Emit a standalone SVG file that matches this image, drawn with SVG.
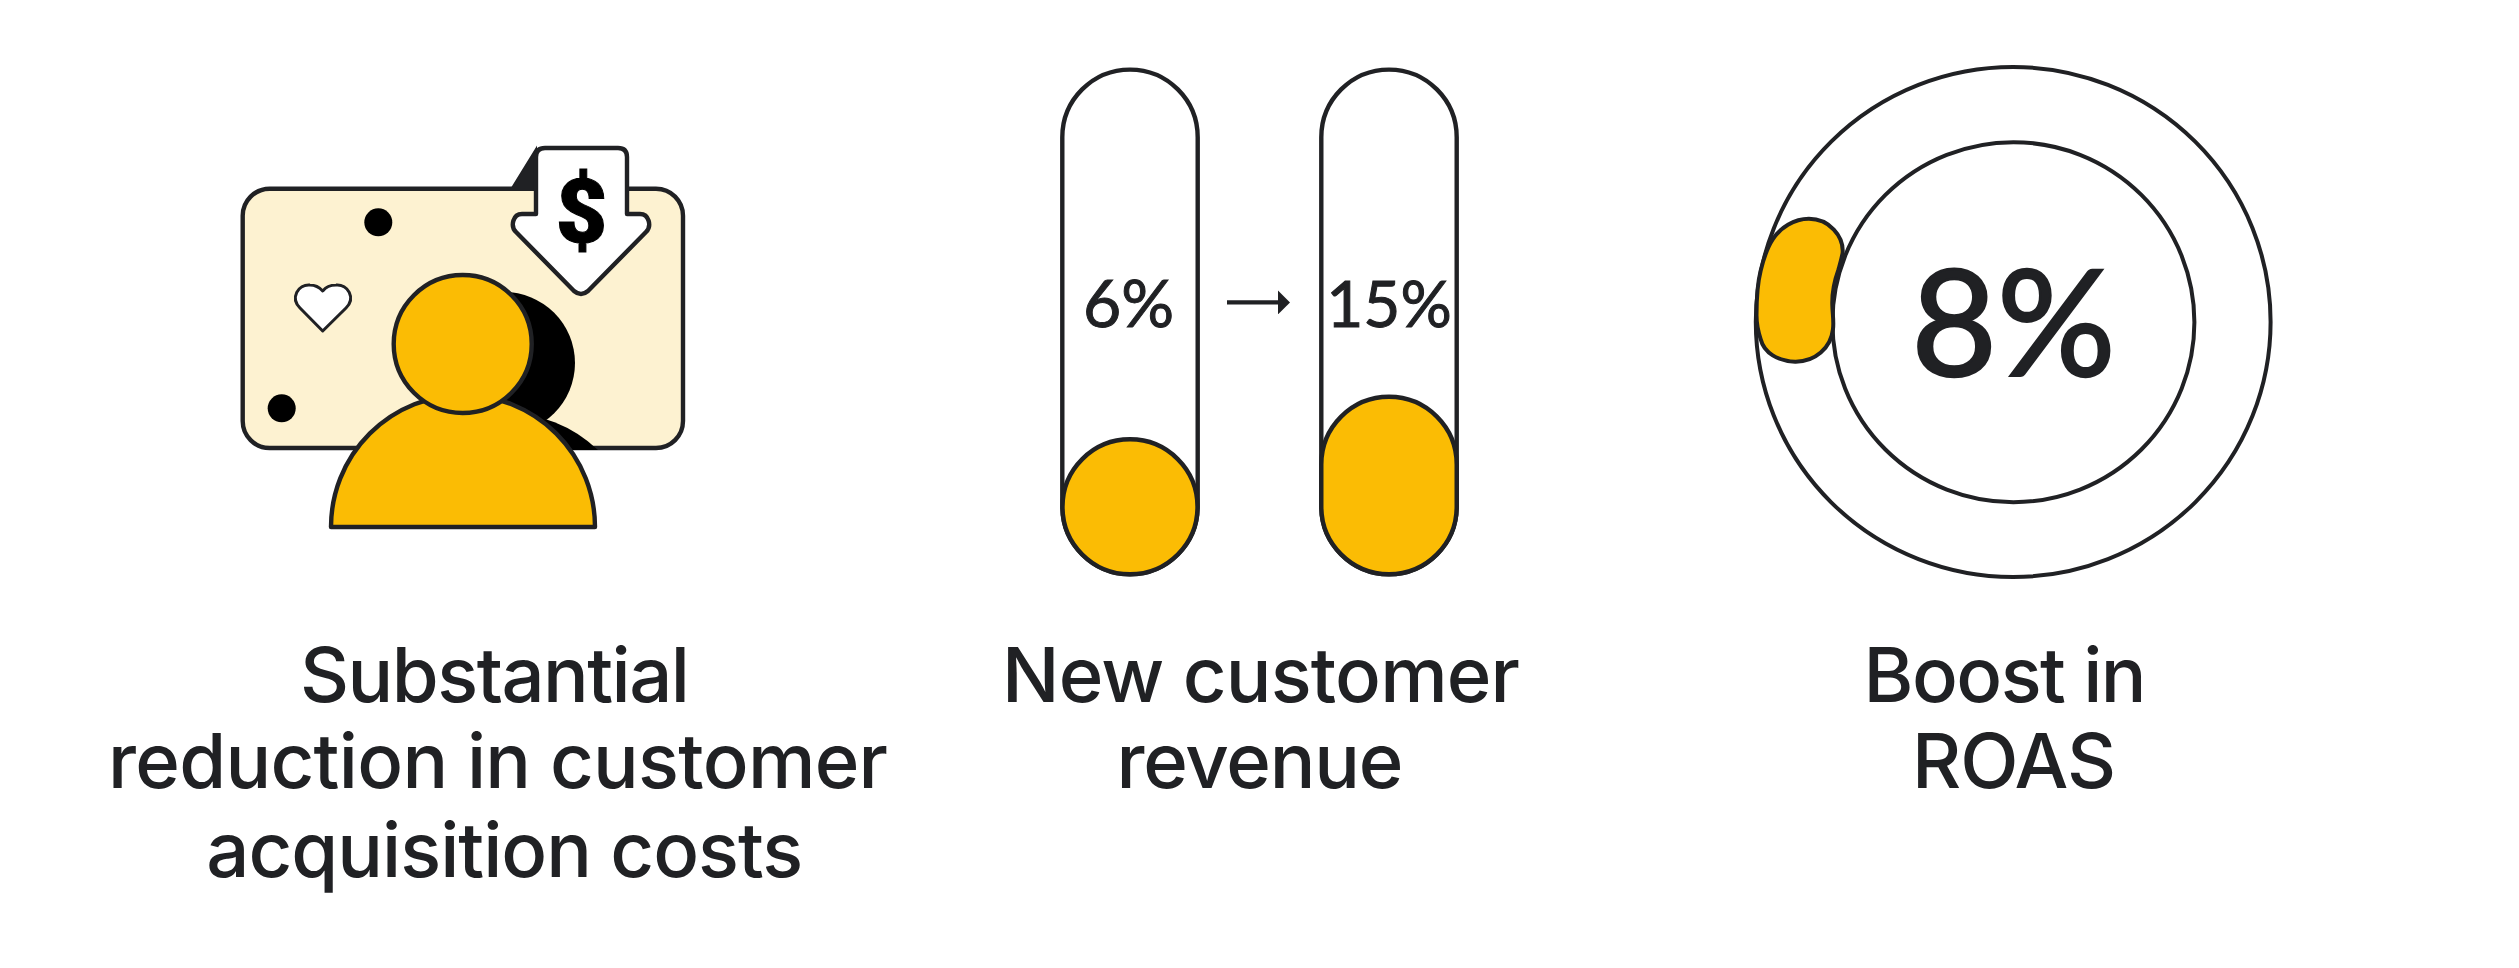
<svg xmlns="http://www.w3.org/2000/svg" width="2519" height="968" viewBox="0 0 2519 968">
<style>
.ln{stroke:#202124;stroke-width:4.4;stroke-linejoin:round}
.wh{fill:#fff}
.ye{fill:#fbbc04}
.lbl{font-family:"Inter","Roboto",sans-serif;font-size:76px;font-weight:500;fill:#202124;text-anchor:middle}
.num{font-family:"Lato","Roboto",sans-serif;fill:#202124;stroke:#202124;text-anchor:middle}
</style>
<defs>
<marker id="ah" markerUnits="userSpaceOnUse" markerWidth="13" markerHeight="24" refX="1" refY="12" orient="auto"><path d="M0 0L12 12L0 24Z" fill="#202124"/></marker>
</defs>
<rect width="2519" height="968" fill="#fff"/>
<g id="node-cost">
<rect class="ln" x="242.7" y="188.7" width="440.3" height="259.3" rx="27" fill="#fdf2d1"/>
<path d="M512 188L536 149V188Z" fill="#202124" stroke="#202124" stroke-width="2"/>
<path class="ln wh" d="M536 214H522C513 214 510 226 516 232L574 291Q581 297 588 291L646 232C652 226 649 214 640 214H627V157Q627 148 618 148H545Q536 148 536 157Z"/>
<text x="581.5" y="242.5" font-family="Roboto,sans-serif" font-weight="900" font-size="89" text-anchor="middle" fill="#000" stroke="#000" stroke-width="1">$</text>
<circle cx="378.3" cy="222.3" r="14"/>
<circle cx="281.7" cy="408.3" r="14"/>
<path class="ln wh" style="stroke-width:3" d="M322.7 331L300 308C290 298 298 284 310 285C316 285 320 288 322.7 291C325 288 330 285 336 285C348 284 356 298 346 308Z"/>
<circle cx="504" cy="363" r="71"/>
<path d="M504 413A133 133 0 0 1 598 450H504Z"/>
<path class="ln ye" d="M331 527A132 132 0 0 1 595 527Z"/>
<circle class="ln ye" cx="462.7" cy="344" r="69"/>
<text class="lbl" x="495" y="701.7" textLength="390">Substantial</text>
<text class="lbl" x="498" y="788.3" textLength="780">reduction in customer</text>
<text class="lbl" x="504.7" y="876.7" textLength="597">acquisition costs</text>
</g>
<g id="node-revenue">
<rect class="ln wh" x="1062.3" y="69.6" width="135.4" height="504.6" rx="67.7"/>
<circle class="ln ye" cx="1130" cy="506.8" r="67.5"/>
<text class="num" x="1128.5" y="327.2" font-size="66" stroke-width="1">6%</text>
<rect class="ln wh" x="1321.3" y="69.6" width="135.4" height="504.6" rx="67.7"/>
<rect class="ln ye" x="1321.3" y="396.8" width="135.4" height="177.4" rx="67.7"/>
<text class="num" x="1389" y="327.2" font-size="64" stroke-width="1">15%</text>
<text class="lbl" x="1261" y="701.7" textLength="518">New customer</text>
<text class="lbl" x="1260" y="788.3" textLength="287">revenue</text>
</g>
<g id="node-roas">
<ellipse class="ln wh" style="stroke-width:4" cx="2013.2" cy="322" rx="257.4" ry="255"/>
<ellipse class="ln wh" style="stroke-width:4" cx="2013.4" cy="322.2" rx="181" ry="180"/>
<path class="ln ye" style="stroke-width:4" d="M1808.9 218.8C1829 218.8 1844 236 1842.6 253.2C1841 261 1840 264 1838.2 270.4C1834 282 1832 294 1832.3 304.9C1832.5 314 1834 321 1833 329C1831 348 1815 362 1795.1 361.7C1778 361 1764 353 1760.7 339.3C1758 331 1756.5 324 1756.5 315.2C1756.5 298 1757 285 1760.7 270.4C1764 257 1767 248 1772.7 239.4C1780 228 1794 218.8 1808.9 218.8Z"/>
<text class="num" x="2013.5" y="376" font-size="148" stroke-width="2.5">8%</text>
<text class="lbl" x="2005" y="701.7" textLength="283">Boost in</text>
<text class="lbl" x="2014" y="788.3" textLength="204">ROAS</text>
</g>
<g id="connectors">
<line class="ln" x1="1227" y1="302.4" x2="1279" y2="302.4" marker-end="url(#ah)"/>
</g>
</svg>
